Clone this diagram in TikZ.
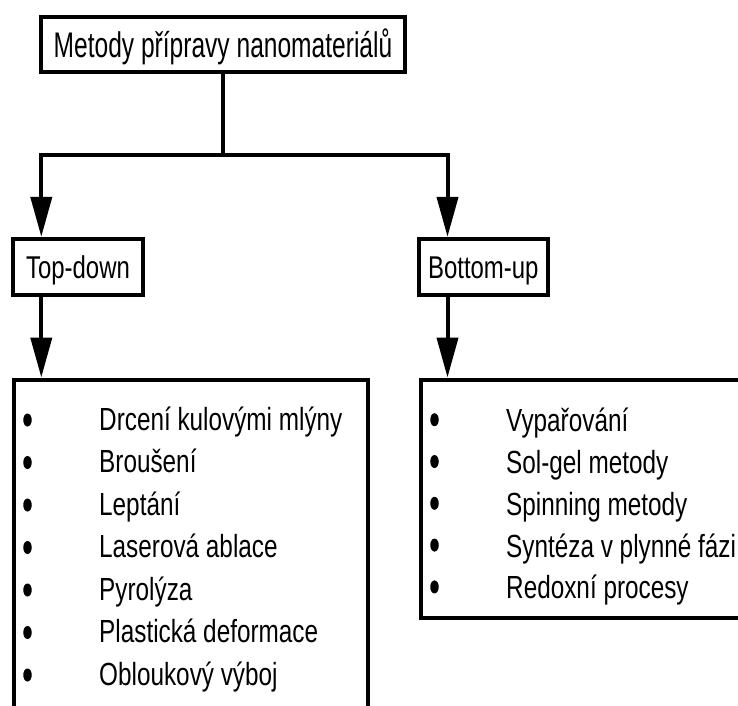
\documentclass[tikz,border=0pt]{standalone}
\usepackage{fontspec}
\setmainfont{Liberation Sans}
\newfontfamily\titlefont{Liberation Sans}[FakeStretch=0.69]
\newfontfamily\listfont{Liberation Sans}[FakeStretch=0.76]
\usetikzlibrary{arrows.meta, shapes.geometric}

\tikzset{
	box/.style = {draw, line width = 4pt, inner sep = 0pt, text height = 23pt, text depth = 0pt},
	flow/.style = {line width = 4pt, -{Triangle[width = 21pt, length = 40pt]}},
	listdot/.style = {ellipse, fill, inner sep = 0pt, minimum width = 8.5pt, minimum height = 13pt},
	listitem/.style = {font = \listfont\fontsize{32}{36}\selectfont, anchor = base west, inner sep = 0pt},
}

\begin{document}
\begin{tikzpicture}[x = 1pt, y = -1pt]
			\useasboundingbox (0,0) rectangle (738,705);
			\clip (0,0) rectangle (738,705);

			\def\yTURN{155.3};
			\def\xTD{41.3};
			\def\xBU{447.5};

			\node [box, text height = 25.5pt, font = \titlefont\fontsize{35.6}{40}\selectfont, minimum width = 363.7pt, minimum height = 55pt] (metody) at (223,44.5) {Metody přípravy nanomateriálů};

			\begin{scope}[every node/.append style = {font = \listfont\fontsize{31.5}{36}\selectfont, minimum height = 55.7pt}]
				\node [box, minimum width = 130pt] (topdown) at (78,266.7) {Top-down};
				\node [box, minimum width = 129.3pt] (bottomup) at (483.3,266.7) {Bottom-up};
			\end{scope}

			\node [box, anchor = north west, minimum width = 354.3pt, minimum height = 400pt] (tdlist) at (12,377.5) {};
			\node [box, anchor = north west, minimum width = 400pt, minimum height = 238pt] (bulist) at (418.5,377.5) {};

			\coordinate (split) at (223,\yTURN);
			\coordinate (tdturn) at (\xTD,\yTURN);
			\coordinate (buturn) at (\xBU,\yTURN);

			\draw [line width = 4pt] (metody.south) -- (split);
			\draw [flow] (split) -- (tdturn) -- (topdown.north -| tdturn);
			\draw [flow] (split) -- (buturn) -- (bottomup.north -| buturn);
			\draw [flow] (topdown.south -| tdturn) -- (tdlist.north -| tdturn);
			\draw [flow] (bottomup.south -| buturn) -- (bulist.north -| buturn);

			\foreach \txt [count = \i] in {Drcení kulovými mlýny, Broušení, Leptání, Laserová ablace, Pyrolýza, Plastická deformace, Obloukový výboj}
			{
				\node [listdot] (tddot\i) at (27.5,377.5+42.5*\i) {};
				\node [listitem] (tditem\i) at (99,387.5+42.5*\i) {\txt};
			}

			\foreach \txt [count = \i] in {Vypařování, Sol-gel metody, Spinning metody, Syntéza v plynné fázi, Redoxní procesy}
			{
				\node [listdot] (budot\i) at (434.5,377.9+41.8*\i) {};
				\node [listitem] (buitem\i) at (506,389.9+41.8*\i) {\txt};
			}
		\end{tikzpicture}
\end{document}
